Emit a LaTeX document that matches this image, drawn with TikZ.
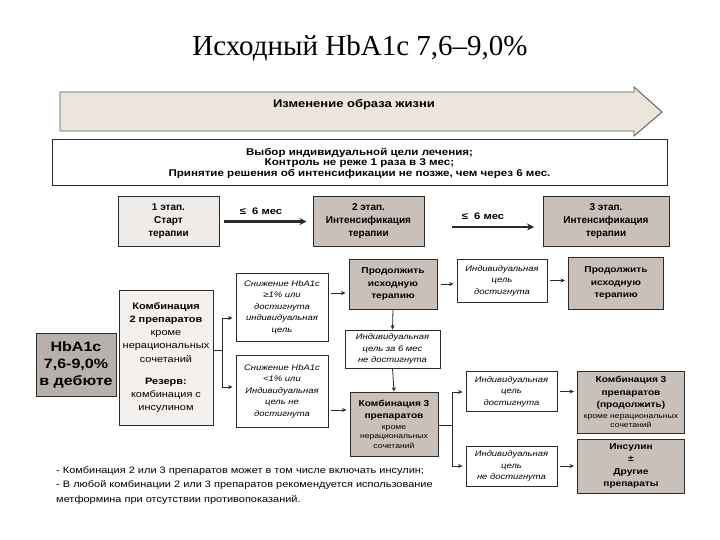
\documentclass[tikz,border=0pt]{standalone}
\usepackage{fontspec}
\setmainfont[FakeStretch=1.18]{Liberation Sans}
\newfontfamily\plainsans{Liberation Sans}
\newfontfamily\titlefont{Liberation Serif}
\usetikzlibrary{arrows.meta}
\definecolor{arrfill}{HTML}{EDE4DC}
\definecolor{lightfill}{HTML}{EEEBE8}
\definecolor{grayfill}{HTML}{C8C0B9}
\definecolor{hbafill}{HTML}{B8B0AA}
\definecolor{combfill}{HTML}{F3F0ED}
\definecolor{edge}{HTML}{2A2A2A}
\newcommand{\smalltxt}{\mdseries\fontsize{7.3}{9.3}\selectfont}
\tikzset{
  bx/.style={draw=edge, line width=1pt, align=center, inner sep=1pt},
  stagebox/.style={bx, font=\plainsans\bfseries\fontsize{10}{13}\selectfont},
  graybox/.style={bx, fill=grayfill, font=\bfseries\fontsize{8.6}{12.5}\selectfont},
  itbox/.style={bx, line width=0.8pt, fill=white, font=\itshape\fontsize{8}{11.5}\selectfont},
  arr/.style={-{Stealth[length=4.5pt,width=4pt]}, line width=0.8pt, draw=edge, shorten <=3pt, shorten >=3pt},
  bigarr/.style={-{Stealth[length=7pt,width=7pt]}, line width=2.2pt, draw=edge},
  ln/.style={line width=0.8pt, draw=edge}
}
\begin{document}
\begin{tikzpicture}[x=1pt,y=-1pt]
\useasboundingbox (0,0) rectangle (720,540);
\fill[white] (0,0) rectangle (720,540);

\node (title) at (360,48) {\titlefont\fontsize{29}{33}\selectfont Исходный HbA1c 7,6–9,0\%};

% big arrow
\draw[draw=black!65, line width=0.9pt, fill=arrfill] (60,92) -- (634,92) -- (634,87) -- (662,112) -- (634,136) -- (634,131) -- (60,131) -- cycle;
\node[font=\bfseries\fontsize{11}{13}\selectfont] (life) at (354,105) {Изменение образа жизни};

% goal box
\node[bx, minimum width=615pt, minimum height=46pt, font=\bfseries\fontsize{9.8}{10.6}\selectfont] (goal) at (359.5,163)
  {Выбор индивидуальной цели лечения;\\Контроль не реже 1 раза в 3 мес;\\Принятие решения об интенсификации не позже, чем через 6 мес.};

% stages
\node[stagebox, fill=lightfill, minimum width=101pt, minimum height=49pt] (st1) at (168.5,221.5) {1 этап.\\Старт\\терапии};
\node[stagebox, fill=grayfill, minimum width=111pt, minimum height=49pt] (st2) at (368.5,221.5) {2 этап.\\Интенсификация\\терапии};
\node[stagebox, fill=grayfill, minimum width=126pt, minimum height=49pt] (st3) at (606,221.5) {3 этап.\\Интенсификация\\терапии};
\draw[bigarr] ([xshift=4pt]st1.east) -- ([xshift=-6pt]st2.west);
\node[font=\bfseries\fontsize{9.5}{11}\selectfont] (lab1) at (261,211) {≤~ 6 мес};
\coordinate (s2a) at (452,227);
\coordinate (s3a) at (534,227);
\draw[bigarr] (s2a) -- (s3a);
\node[font=\bfseries\fontsize{9.5}{11}\selectfont] (lab2) at (483,216) {≤~ 6 мес};

% left
\node[bx, fill=hbafill, minimum width=80pt, minimum height=63pt, font=\bfseries\fontsize{13.6}{17}\selectfont] (hba) at (76,364.5) {HbA1c\\7,6-9,0\%\\в дебюте};
\node[bx, fill=combfill, minimum width=94pt, minimum height=135pt, font=\fontsize{9.3}{13.2}\selectfont] (comb2) at (166,357.5)
  {\textbf{Комбинация}\\\textbf{2 препаратов}\\кроме\\нерациональных\\сочетаний\\[9pt]\textbf{Резерв:}\\комбинация с\\инсулином};

\node[itbox, minimum width=92pt, minimum height=68pt] (boxA) at (282,307) {Снижение HbA1c\\≥1\% или\\достигнута\\индивидуальная\\цель};
\node[itbox, minimum width=92pt, minimum height=72pt] (boxB) at (282,391) {Снижение HbA1c\\<1\% или\\Индивидуальная\\цель не\\достигнута};

\coordinate (j0) at (222,350);
\coordinate (ja) at (222,318);
\coordinate (jb) at (222,387);
\draw[ln] (comb2.east |- j0) -- (j0);
\draw[ln] (ja) -- (jb);
\draw[arr, shorten <=0pt] (ja) -- (boxA.west |- ja);
\draw[arr, shorten <=0pt] (jb) -- (boxB.west |- jb);

% middle column
\node[graybox, minimum width=88pt, minimum height=50pt] (prod) at (393,284) {Продолжить\\исходную\\терапию};
\node[itbox, minimum width=95pt, minimum height=38pt] (ind6) at (392.5,349) {Индивидуальная\\цель за 6 мес\\не достигнута};
\node[graybox, minimum width=88pt, minimum height=64pt] (comb3) at (394,424) {Комбинация 3\\препаратов\\[-2pt]\smalltxt кроме\\[-3pt]\smalltxt нерациональных\\[-3pt]\smalltxt сочетаний};

\coordinate (ya) at (0,293);
\coordinate (yb) at (0,410);
\draw[arr] (boxA.east |- ya) -- (prod.west |- ya);
\draw[arr] (boxB.east |- yb) -- (comb3.west |- yb);
\draw[arr, shorten <=0pt, shorten >=0pt] (prod.south) -- (ind6.north);
\draw[arr, shorten <=0pt, shorten >=0pt] (ind6.south) -- (comb3.north);

% right column, top
\node[itbox, minimum width=90pt, minimum height=43pt] (ir1) at (502,280.5) {Индивидуальная\\цель\\достигнута};
\node[graybox, minimum width=95pt, minimum height=52pt] (prod2) at (616,283) {Продолжить\\исходную\\терапию};
\draw[arr] (prod.east) -- (ir1.west |- prod.east);
\draw[arr] (ir1.east) -- (prod2.west |- ir1.east);

% right column, bottom
\node[itbox, minimum width=91pt, minimum height=40pt] (ir2) at (511.5,391.5) {Индивидуальная\\цель\\достигнута};
\node[itbox, minimum width=91pt, minimum height=40pt] (inr) at (511.5,466) {Индивидуальная\\цель\\не достигнута};
\node[graybox, minimum width=107pt, minimum height=62pt] (comb3c) at (631,402) {Комбинация 3\\препаратов\\(продолжить)\\[-2pt]\smalltxt кроме нерациональных\\[-3pt]\smalltxt сочетаний};
\node[graybox, minimum width=107pt, minimum height=54pt] (ins) at (631,466) {Инсулин\\±\\Другие\\препараты};

\coordinate (k0) at (452,425);
\coordinate (ka) at (452,392);
\coordinate (kb) at (452,466);
\draw[ln] (comb3.east |- k0) -- (k0);
\draw[ln] (ka) -- (kb);
\draw[arr, shorten <=0pt] (ka) -- (ir2.west |- ka);
\draw[arr, shorten <=0pt] (kb) -- (inr.west |- kb);
\draw[arr] (ir2.east) -- (comb3c.west |- ir2.east);
\draw[arr] (inr.east) -- (ins.west |- inr.east);

% footnotes
\node[anchor=north west, align=left, inner sep=0pt, font=\fontsize{9.3}{14.5}\selectfont] (foot) at (56,466)
  {- Комбинация 2 или 3 препаратов может в том числе включать инсулин;\\- В любой комбинации 2 или 3 препаратов рекомендуется использование\\метформина при отсутствии противопоказаний.};
\end{tikzpicture}
\end{document}
